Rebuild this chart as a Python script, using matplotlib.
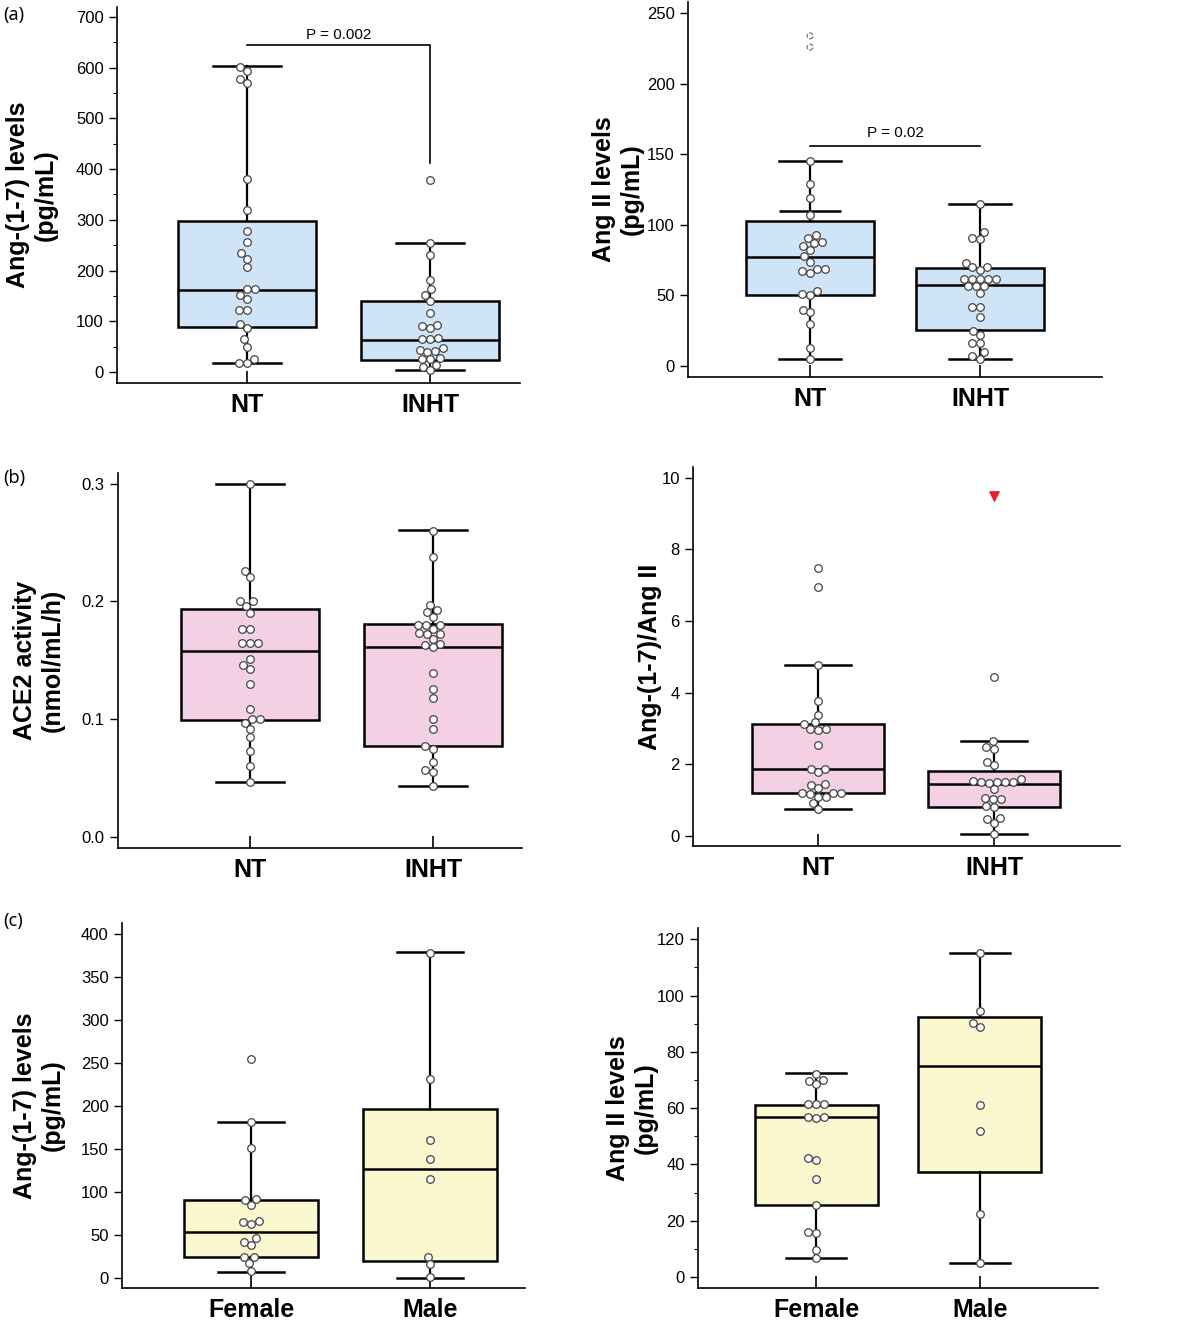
import numpy as np
import matplotlib.pyplot as plt

plt.rcParams['font.family'] = ['Liberation Sans', 'DejaVu Sans']

W, H = 1200, 1321

groups_ht = ["NT", "INHT"]
groups_sex = ["Female", "Male"]

# box stats per group: whisker low, q1, median, q3, whisker high
ang17_stats = [[17, 88, 162, 298, 603], [3, 24, 63, 140, 255]]
ang17_nt = [601, 593, 578, 570, 380, 319, 278, 257, 234, 223, 206, 163, 163,
            151, 143, 122, 122, 94, 87, 64, 49, 25, 18, 17]
ang17_inht = [378, 255, 230, 181, 163, 152, 139, 116, 92, 90, 86, 66, 64, 64,
              47, 43, 41, 40, 27, 25, 25, 14, 9, 3]

ang2_stats = [[5, 50.5, 77.3, 103, 145], [5, 25.5, 57.3, 69.7, 115]]
ang2_nt_cap2 = 110
ang2_nt = [145, 129, 119, 107, 93, 91, 88, 87, 85, 82, 78, 74, 69, 69, 67, 66,
           53, 51, 50, 40, 38, 30, 13, 5]
ang2_nt_out = [234, 226]
ang2_inht = [115, 95, 91, 90, 73, 70, 70, 68, 62, 62, 62, 62, 62, 57, 57, 57,
             52, 42, 42, 35, 25, 22, 16, 16, 10, 7, 5]

ace2_stats = [[0.047, 0.0997, 0.1575, 0.1932, 0.300],
              [0.0436, 0.0776, 0.1615, 0.1805, 0.2606]]
ace2_nt = [0.300, 0.226, 0.221, 0.200, 0.200, 0.196, 0.190, 0.177, 0.177,
           0.165, 0.165, 0.165, 0.151, 0.146, 0.143, 0.130, 0.109, 0.100,
           0.100, 0.097, 0.092, 0.085, 0.073, 0.060, 0.047]
ace2_inht = [0.260, 0.238, 0.197, 0.193, 0.191, 0.187, 0.180, 0.180, 0.180,
             0.177, 0.173, 0.172, 0.172, 0.168, 0.164, 0.163, 0.161, 0.139,
             0.126, 0.118, 0.100, 0.092, 0.077, 0.075, 0.064, 0.057, 0.055,
             0.043]

ratio_stats = [[0.76, 1.21, 1.87, 3.13, 4.78], [0.056, 0.82, 1.45, 1.80, 2.66]]
ratio_nt = [7.47, 6.94, 4.78, 3.78, 3.38, 3.17, 3.13, 3.0, 2.98, 2.96, 2.53,
            1.88, 1.87, 1.78, 1.44, 1.42, 1.33, 1.21, 1.19, 1.19, 1.17, 1.1,
            1.1, 0.93, 0.76]
ratio_inht = [4.45, 2.66, 2.47, 2.44, 2.06, 1.98, 1.58, 1.54, 1.52, 1.52, 1.52,
              1.51, 1.48, 1.30, 1.05, 1.04, 1.03, 0.83, 0.81, 0.50, 0.48, 0.35,
              0.05]
ratio_inht_flag = [9.5]

ang17_sex_stats = [[7.4, 24, 53.5, 90.8, 181.2], [0.4, 19.8, 127.3, 196.3, 378.7]]
ang17_female = [255, 181, 151, 92, 91, 85, 66, 65, 63, 46, 42, 39, 24, 24, 17, 8]
ang17_male = [378, 232, 161, 139, 115, 25, 16, 1]

ang2_sex_stats = [[6.6, 25.5, 56.8, 61.1, 72.5], [5.1, 37.4, 75.0, 92.4, 115.2]]
ang2_female = [72, 70, 69.5, 68.5, 61.3, 61.3, 61.3, 57, 57, 56.5, 42.3, 41.5,
               35, 25.5, 16, 15.5, 9.6, 6.6]
ang2_male = [115, 94.6, 90.3, 89, 61, 52, 22.5, 5]

blue = '#cfe5f7'
pink = '#f3d0e3'
yellow = '#fbf8cf'

fig = plt.figure(figsize=(W / 100, H / 100), dpi=100)


def swarm(ax, x0, vals, d=8.0):
    # simple beeswarm in pixel space
    pts = ax.transData.transform(np.column_stack([np.full(len(vals), x0), vals]))
    order = np.argsort(pts[:, 1])
    px0 = pts[0, 0]
    placed = []
    out = np.zeros(len(vals))
    for i in order:
        y = pts[i, 1]
        cands = [0.0]
        for (px, py) in placed:
            dy = abs(py - y)
            if dy < d:
                dx = np.sqrt(d * d - dy * dy)
                cands += [px - px0 - dx, px - px0 + dx]
        cands.sort(key=abs)
        for c in cands:
            ok = all((px0 + c - px) ** 2 + (y - py) ** 2 >= d * d - 1e-6
                     for (px, py) in placed)
            if ok:
                break
        placed.append((px0 + c, y))
        out[i] = ax.transData.inverted().transform((px0 + c, y))[0]
    return out


def panel(rect, groups, stats, pts, color, ylim, yticks, xlim, ylabel,
          label_x, minor=None, fmt=None):
    l, t, r, b = rect
    ax = fig.add_axes([l / W, 1 - b / H, (r - l) / W, (b - t) / H])
    ax.set_xlim(xlim)
    ax.set_ylim(ylim)
    bstats = [dict(whislo=s[0], q1=s[1], med=s[2], q3=s[3], whishi=s[4], fliers=[])
              for s in stats]
    ax.bxp(bstats, positions=[1, 2], widths=0.75, capwidths=0.37,
           patch_artist=True, showfliers=False,
           boxprops=dict(facecolor=color, edgecolor='black', linewidth=1.8),
           medianprops=dict(color='black', linewidth=1.8),
           whiskerprops=dict(color='black', linewidth=1.6),
           capprops=dict(color='black', linewidth=1.8))
    for k, vals in enumerate(pts):
        xs = swarm(ax, k + 1, vals)
        ax.scatter(xs, vals, s=30, facecolor='white', edgecolor='#444444',
                   linewidth=0.9, zorder=5)
    for s in ['top', 'right']:
        ax.spines[s].set_visible(False)
    for s in ['left', 'bottom']:
        ax.spines[s].set_linewidth(1.2)
    ax.set_xticks([1, 2])
    ax.set_xticklabels(groups, fontsize=18, fontweight='bold')
    ax.tick_params(axis='x', direction='in', length=9, width=1.2, pad=7)
    ax.set_yticks(yticks)
    if fmt:
        ax.set_yticklabels([fmt.format(v) for v in yticks])
    ax.tick_params(axis='y', direction='out', length=6, width=1, labelsize=12)
    if minor:
        ax.set_yticks(np.arange(ylim[0] - ylim[0] % minor + minor, ylim[1], minor),
                      minor=True)
        ax.tick_params(axis='y', which='minor', direction='out', length=3, width=0.8)
    ax.set_ylabel(ylabel, fontsize=18, fontweight='bold')
    ax.yaxis.set_label_coords((label_x - l) / (r - l), 0.5)
    return ax


# (a) left
ax1 = panel((117, 7, 520, 383), groups_ht, ang17_stats, [ang17_nt, ang17_inht],
            blue, (-22, 720), np.arange(0, 701, 100), (0.290, 2.492),
            'Ang-(1-7) levels\n(pg/mL)', 58, minor=50)
ax1.plot([1, 2, 2], [645, 645, 412], color='black', lw=1.2)
ax1.text(1.5, 664, 'P = 0.002', ha='center', va='center', fontsize=11)

# (a) right
ax2 = panel((688, 2, 1102, 377), groups_ht, ang2_stats, [ang2_nt, ang2_inht],
            blue, (-7.8, 258), np.arange(0, 251, 50), (0.282, 2.718),
            'Ang II levels\n(pg/mL)', 644)
ax2.hlines(ang2_nt_cap2, 1 - 0.185, 1 + 0.185, color='black', lw=1.8)
ax2.scatter([1, 1], ang2_nt_out, s=18, facecolor='white', edgecolor='#666666',
            linewidth=0.8, linestyle='--', zorder=5)
ax2.plot([1, 2], [156, 156], color='black', lw=1.2)
ax2.text(1.5, 165, 'P = 0.02', ha='center', va='center', fontsize=11)

# (b) left
ax3 = panel((118, 473, 522, 848), groups_ht, ace2_stats, [ace2_nt, ace2_inht],
            pink, (-0.0093, 0.309), [0.0, 0.1, 0.2, 0.3], (0.279, 2.486),
            'ACE2 activity\n(nmol/mL/h)', 65, fmt='{:.1f}')

# (b) right
ax4 = panel((693, 467, 1120, 846), groups_ht, ratio_stats, [ratio_nt, ratio_inht],
            pink, (-0.28, 10.3), np.arange(0, 11, 2), (0.29, 2.716),
            'Ang-(1-7)/Ang II', 662)
ax4.scatter([2] * len(ratio_inht_flag), ratio_inht_flag, marker='v', s=45,
            color='#e8202a', zorder=5)

# (c) left
ax5 = panel((122, 923, 525, 1288), groups_sex, ang17_sex_stats,
            [ang17_female, ang17_male], yellow, (-11.6, 413),
            np.arange(0, 401, 50), (0.279, 2.53),
            'Ang-(1-7) levels\n(pg/mL)', 65)

# (c) right
ax6 = panel((698, 928, 1098, 1288), groups_sex, ang2_sex_stats,
            [ang2_female, ang2_male], yellow, (-3.9, 124),
            np.arange(0, 121, 20), (0.28, 2.72),
            'Ang II levels\n(pg/mL)', 658, minor=10)

for txt, y in [('(a)', 15), ('(b)', 478), ('(c)', 921)]:
    fig.text(3 / W, 1 - y / H, txt, fontsize=13, family='Noto Sans',
             ha='left', va='center')

fig.savefig('out.png', dpi=100)
